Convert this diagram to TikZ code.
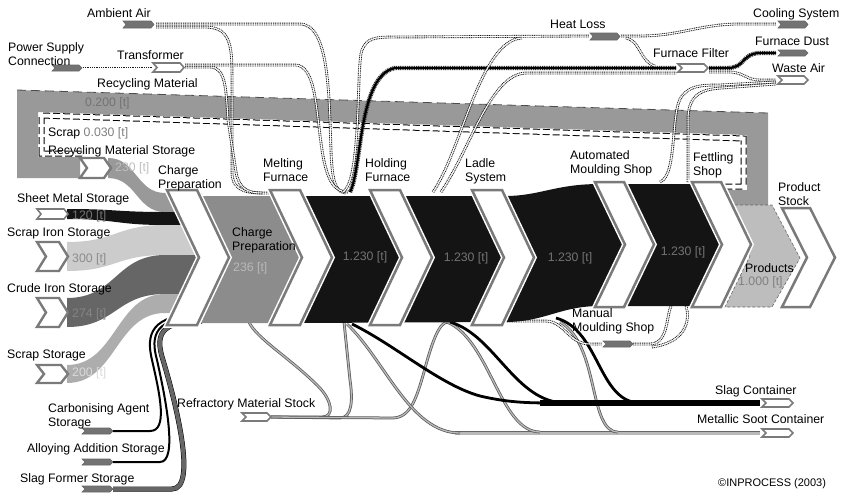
\documentclass[tikz,border=0pt]{standalone}
\usepackage{fontspec}
\setmainfont{Liberation Sans}
\usetikzlibrary{positioning}

\definecolor{recyc}{gray}{0.60}
\definecolor{chgrey}{gray}{0.55}
\definecolor{meltblk}{gray}{0.08}
\definecolor{ironlt}{gray}{0.80}
\definecolor{irondk}{gray}{0.40}
\definecolor{scrapc}{gray}{0.68}
\definecolor{prodc}{gray}{0.74}
\definecolor{rim}{gray}{0.48}
\definecolor{boxg}{gray}{0.45}

\tikzset{
  lbl/.style={inner sep=0pt, align=left, anchor=north west},
  val/.style={inner sep=0pt, anchor=north west},
  dotflow/.style={draw=white, line width=1pt,
    preaction={draw=black!90, line width=2.8pt, dash pattern=on 1pt off 0.8pt}},
  blkflow/.style={draw=black, line width=2.2pt,
    preaction={draw=black!80, line width=4.4pt, dash pattern=on 1pt off 0.8pt}},
  refline/.style={draw=gray!55, line width=1.3pt,
    preaction={draw=black!65, line width=2.8pt}},
  slagline/.style={draw=black, line width=2.8pt},
  chevbox/.style={fill=white, draw=rim, line width=2.5pt,
    preaction={draw=white, line width=5.5pt}},
  wbox/.style={fill=white, draw=rim, line width=1.6pt},
  gbox/.style={fill=boxg, draw=black!60, line width=0.6pt},
}

% chevron: left x, top, bottom, arm width, depth
\newcommand\chevron[5]{%
  \path[chevbox] (#1,#2) -- ({#1+#4},#2) -- ({#1+#4+#5},{(#2+#3)/2})
    -- ({#1+#4},#3) -- (#1,#3) -- ({#1+#5},{(#2+#3)/2}) -- cycle;}
% store / sink box: style, x, top, bottom, width, notch
\newcommand\srcbox[6]{%
  \path[#1] (#2,#3) -- ({#2+#5-#6},#3) -- ({#2+#5},{(#3+#4)/2})
    -- ({#2+#5-#6},#4) -- (#2,#4) -- ({#2+#6},{(#3+#4)/2}) -- cycle;}
% input ribbon into charge preparation
\newcommand\inflow[7]{%
  \fill[#1] (#2,#3) .. controls ({(#2+#5)/2},#3) and ({(#2+#5)/2},#6) .. (#5,#6)
    -- (202,#6) -- (202,#7) -- (#5,#7)
    .. controls ({(#2+#5)/2},#7) and ({(#2+#5)/2},#4) .. (#2,#4) -- cycle;}

\begin{document}
\begin{tikzpicture}[x=1pt, y=-1pt, font=\fontsize{12.3}{14}\selectfont]
  \useasboundingbox (0,0) rectangle (847,493);

  % recycling loop and scrap stripe
  \fill[recyc] (17,90) -- (768,113) -- (768,207) -- (727,207) -- (727,190) -- (747,190)
    -- (747,135) -- (38,112) -- (38,157) -- (80,157) -- (80,178) -- (17,178) -- cycle;
  \draw[black!70, line width=0.8pt, dash pattern=on 9pt off 5pt] (17,90) -- (768,113);
  \draw[black, line width=6pt, dash pattern=on 7pt off 3pt]
    (82,153.5) -- (41.5,153.5) -- (41.5,115.5) -- (743.5,138.5) -- (743.5,186.5) -- (722,186.5);
  \draw[white, line width=4pt]
    (82,153.5) -- (41.5,153.5) -- (41.5,115.5) -- (743.5,138.5) -- (743.5,186.5) -- (722,186.5);

  % air and power flows
  \coordinate (amb) at (156,24);
  \coordinate (psc) at (83,68);
  \coordinate (trf-in) at (152,68);
  \coordinate (trf) at (185,67);
  \draw[dotflow] (amb) -- (300,24) .. controls (330,24) and (329,100) .. (331,150)
    .. controls (332,182) and (336,193) .. (346,193);
  \draw[dotflow] (amb) ++(0,3) -- (205,27) .. controls (230,27) and (232,45) .. (232,75)
    -- (232,172) .. controls (232,188) and (242,193) .. (262,193) -- (300,193);
  \draw[dotflow] (psc) -- (trf-in);
  \draw[dotflow] (trf) -- (210,67) .. controls (226,67) and (226,90) .. (228,120)
    -- (236,172) .. controls (239,189) and (248,193) .. (262,193);
  \draw[dotflow] (trf) ++(0,-2) -- (295,65) .. controls (316,65) and (316,110) .. (322,150)
    .. controls (327,182) and (335,192) .. (348,192);

  % furnaces to heat loss and filter
  \coordinate (heat-in) at (589,36);
  \coordinate (heat-out) at (621,36);
  \coordinate (filt-in) at (676,68);
  \coordinate (filt-out) at (709,68);
  \draw[dotflow] (343,192) .. controls (362,180) and (356,65) .. (362,50)
    .. controls (367,38) and (375,37) .. (395,37) -- (heat-in);
  \draw[blkflow] (350,192) .. controls (362,170) and (358,75) .. (395,68) -- (filt-in);
  \draw[dotflow] (433,192) .. controls (462,150) and (480,40) .. (522,38);
  \draw[dotflow] (441,192) .. controls (470,150) and (490,74) .. (526,73) -- (676,73);
  \draw[dotflow] (heat-out) -- (640,36) .. controls (680,36) and (700,24) .. (740,24) -- (776,24);
  \draw[dotflow] (heat-out) ++(5,2) .. controls (640,40) and (640,62) .. (655,66);

  % filter to dust and waste air
  \draw[blkflow] (filt-out) -- (728,68) .. controls (745,68) and (742,53) .. (760,53) -- (776,53);
  \draw[dotflow] (filt-out) ++(0,4) -- (728,72) .. controls (745,72) and (745,80) .. (760,80) -- (776,80);
  \draw[dotflow] (660,182) .. controls (678,175) and (670,110) .. (682,96)
    .. controls (690,86) and (700,85) .. (720,85) -- (776,82);
  \draw[dotflow] (688,182) -- (688,120) .. controls (688,96) and (700,89) .. (722,88) -- (776,84);

  % raw material inputs
  \inflow{recyc}{108}{158}{178}{165}{193}{212}
  \inflow{meltblk}{67}{209}{219}{165}{212}{225}
  \inflow{ironlt}{67}{242}{271}{165}{225}{255}
  \inflow{irondk}{67}{298}{327}{165}{255}{294}
  \inflow{scrapc}{67}{365}{383}{165}{294}{313}
  \draw[black, line width=2pt] (113,431) -- (150,431) .. controls (168,431) and (160,395) .. (152,360)
    .. controls (146,335) and (150,314) .. (202,314);
  \draw[black, line width=2pt] (113,462) -- (160,462) .. controls (178,462) and (166,400) .. (157,360)
    .. controls (150,335) and (155,317) .. (202,317);
  \draw[irondk, line width=4pt, preaction={draw=black, line width=5pt}]
    (113,489) -- (172,489) .. controls (198,489) and (175,400) .. (163,360)
    .. controls (155,335) and (160,321) .. (202,321);

  % refractory, slag and soot
  \coordinate (refr) at (271,417);
  \coordinate (slag-in) at (760,403);
  \coordinate (soot-in) at (760,433);
  \draw[refline] (refr) -- (322,417) .. controls (335,417) and (332,400) .. (318,386)
    .. controls (290,358) and (256,338) .. (249,322);
  \draw[refline] (refr) -- (340,418) .. controls (352,418) and (353,400) .. (350,380) -- (344,322);
  \draw[refline] (refr) -- (392,418) .. controls (410,418) and (416,400) .. (424,372)
    .. controls (433,338) and (440,322) .. (448,322);
  \draw[draw=gray!55, line width=3pt, preaction={draw=black!60, line width=4.6pt}] (455,433) -- (soot-in);
  \draw[refline] (347,324) .. controls (385,360) and (410,433) .. (460,433);
  \draw[refline] (447,322) .. controls (490,340) and (500,432) .. (540,432);
  \draw[refline] (560,322) .. controls (600,345) and (588,432) .. (618,432);
  \draw[slagline] (352,324) .. controls (395,345) and (440,385) .. (480,396)
    .. controls (510,403) and (530,403) .. (560,403);
  \draw[slagline] (450,322) .. controls (495,335) and (515,402) .. (565,403);
  \draw[slagline] (556,318) .. controls (600,330) and (598,402) .. (640,403);
  \draw[black, line width=5.5pt] (540,403) -- (slag-in);

  % manual moulding loop
  \coordinate (man-in) at (602,344);
  \coordinate (man-out) at (633,344);
  \draw[dotflow] (505,321) -- (545,321) .. controls (565,321) and (568,344) .. (590,344) -- (man-in);
  \draw[dotflow] (man-out) -- (650,344) .. controls (668,344) and (666,318) .. (671,306);
  \draw[dotflow] (652,347) .. controls (688,342) and (690,318) .. (686,306);

  % process blocks
  \fill[chgrey] (200,196) -- (285,196) -- (312,258) -- (285,323) -- (200,323) -- (228,258) -- cycle;
  \fill[meltblk] (300,196) -- (505,196) .. controls (540,196) and (555,184) .. (600,184)
    -- (705,184) -- (740,245) -- (705,306) -- (600,306)
    .. controls (560,306) and (545,322) .. (505,322) -- (300,323) -- (330,258) -- cycle;
  \fill[prodc, draw=black!60, densely dashed, line width=0.6pt]
    (725,205) -- (772,205) -- (800,258) -- (772,307) -- (725,307) -- (750,256) -- cycle;

  % chevrons
  \foreach \cx in {167,270,370,472}
    {\chevron{\cx}{190}{325}{30}{32}}
  \foreach \cx in {595,692}
    {\chevron{\cx}{182}{307}{29}{30}}
  \chevron{782}{208}{307}{28}{25}

  % stores and sinks
  \srcbox{gbox}{123}{21}{28}{31}{3}
  \srcbox{gbox}{52}{65}{71}{30}{3}
  \srcbox{wbox}{153}{63}{72}{31}{4}
  \srcbox{gbox}{590}{33}{40}{30}{3}
  \srcbox{gbox}{778}{21}{28}{30}{3}
  \srcbox{wbox}{678}{64}{72}{30}{4}
  \srcbox{gbox}{778}{50}{56}{30}{3}
  \srcbox{wbox}{778}{76}{84}{30}{4}
  \srcbox{gbox}{603}{341}{347}{30}{3}
  \srcbox{wbox}{242}{413}{421}{29}{4}
  \srcbox{wbox}{762}{399}{407}{31}{4}
  \srcbox{wbox}{762}{429}{437}{31}{4}
  \srcbox{gbox}{82}{428}{434}{31}{3}
  \srcbox{gbox}{82}{459}{465}{31}{3}
  \srcbox{gbox}{82}{486}{492}{31}{3}
  \srcbox{wbox}{37}{209}{219}{31}{4}
  \srcbox{wbox, line width=2.4pt}{37}{242}{271}{31}{9}
  \srcbox{wbox, line width=2.4pt}{37}{298}{327}{31}{9}
  \srcbox{wbox, line width=2.4pt}{37}{365}{383}{31}{7}
  \srcbox{wbox, line width=2.4pt}{80}{158}{178}{31}{7}

  % labels top
  \node[lbl] (t-amb) at (87,8) {Ambient Air};
  \node[lbl] (t-psc) at (8,42) {Power Supply\\Connection};
  \node[lbl] (t-trf) at (117,50) {Transformer};
  \node[lbl] (t-recm) at (97,78) {Recycling Material};
  \node[val, text=black!55] (v-recm) at (85,97) {0.200 [t]};
  \node[lbl] (t-scrap) at (48,127) {Scrap \textcolor{black!50}{0.030 [t]}};
  \node[lbl] (t-rms) at (48,145) {Recycling Material Storage};
  \node[val, text=black!25] (v-rms) at (115,162) {230 [t]};
  \node[lbl] (t-heat) at (550,20) {Heat Loss};
  \node[lbl] (t-cool) at (753,8) {Cooling System};
  \node[lbl] (t-filt) at (653,48) {Furnace Filter};
  \node[lbl] (t-dust) at (755,37) {Furnace Dust};
  \node[lbl] (t-waste) at (772,63) {Waste Air};

  % process labels
  \node[lbl] (t-chg) at (158,165) {Charge\\Preparation};
  \node[lbl] (t-melt) at (263,158) {Melting\\Furnace};
  \node[lbl] (t-hold) at (365,158) {Holding\\Furnace};
  \node[lbl] (t-ladle) at (465,158) {Ladle\\System};
  \node[lbl] (t-auto) at (570,150) {Automated\\Moulding Shop};
  \node[lbl] (t-fett) at (693,152) {Fettling\\Shop};
  \node[lbl] (t-stock) at (778,182) {Product\\Stock};
  \node[lbl] (t-chgin) at (232,227) {Charge\\Preparation};
  \node[val, text=black!28] (v-chg) at (233,262) {236 [t]};
  \foreach \vx/\vy [count=\k] in {365/257, 466/258, 570/258, 683/252}
    \node[inner sep=0pt, text=black!55] (v-blk\k) at (\vx,\vy) {1.230 [t]};
  \node[lbl] (t-prod) at (745,263) {Products};
  \node[val, text=black!50] (v-prod) at (738,276) {1.000 [t]};
  \node[lbl] (t-man) at (572,308) {Manual\\Moulding Shop};

  % labels left
  \node[lbl] (t-sheet) at (17,193) {Sheet Metal Storage};
  \node[val, text=black!55] (v-sheet) at (72,210) {120 [t]};
  \node[lbl] (t-siron) at (7,228) {Scrap Iron Storage};
  \node[val, text=black!45] (v-siron) at (72,253) {300 [t]};
  \node[lbl] (t-crude) at (7,283) {Crude Iron Storage};
  \node[val, text=black!48] (v-crude) at (72,308) {274 [t]};
  \node[lbl] (t-scr) at (7,350) {Scrap Storage};
  \node[val, text=black!15] (v-scr) at (72,367) {200 [t]};
  \node[lbl] (t-carb) at (48,403) {Carbonising Agent\\Storage};
  \node[lbl] (t-alloy) at (27,443) {Alloying Addition Storage};
  \node[lbl] (t-slagf) at (20,473) {Slag Former Storage};
  \node[lbl] (t-refr) at (177,398) {Refractory Material Stock};
  \node[lbl] (t-slag) at (715,385) {Slag Container};
  \node[lbl] (t-soot) at (697,414) {Metallic Soot Container};
  \node[lbl, font=\fontsize{11}{13}\selectfont] (t-copy) at (718,478) {©INPROCESS (2003)};
\end{tikzpicture}
\end{document}
